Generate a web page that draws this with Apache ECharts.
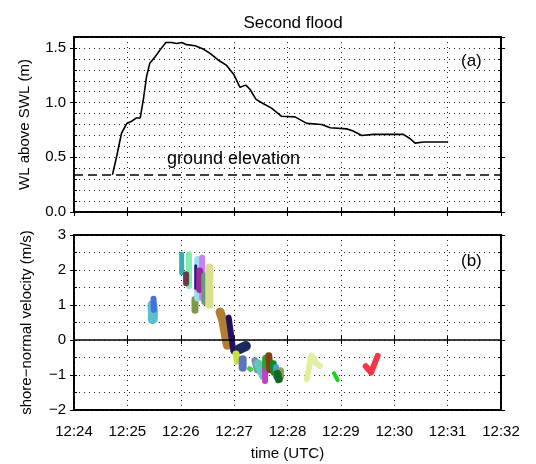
<!DOCTYPE html>
<html>
<head>
<meta charset="utf-8">
<script src="https://cdn.jsdelivr.net/npm/echarts@6/dist/echarts.min.js"></script>
<style>
  html, body { margin: 0; padding: 0; background: #fff; }
  #chart { width: 536px; height: 464px; }
</style>
</head>
<body>
<div id="chart"></div>
<script>
// x axis is minutes after 12:24 UTC
var xTickLabels = ["12:24", "12:25", "12:26", "12:27", "12:28", "12:29", "12:30", "12:31", "12:32"];

// (a) water level above SWL (m)
var wlTime = [0.72, 0.80, 0.89, 0.99, 1.08, 1.17, 1.24, 1.30, 1.36, 1.42, 1.52, 1.61, 1.72, 1.83, 1.92, 2.02, 2.11, 2.27,
  2.42, 2.55, 2.70, 2.86, 2.99, 3.11, 3.22, 3.30, 3.41, 3.55, 3.70, 3.89, 4.14, 4.36, 4.64, 4.80, 5.11, 5.23, 5.39, 5.61,
  6.17, 6.30, 6.39, 6.55, 7.01];
var wlValue = [0.34, 0.51, 0.72, 0.81, 0.83, 0.86, 0.86, 1.03, 1.24, 1.36, 1.42, 1.48, 1.55, 1.55, 1.54, 1.55, 1.53, 1.52,
  1.49, 1.45, 1.39, 1.34, 1.26, 1.14, 1.16, 1.12, 1.03, 0.99, 0.95, 0.875, 0.87, 0.81, 0.80, 0.77, 0.76, 0.74, 0.70, 0.71,
  0.71, 0.67, 0.63, 0.64, 0.64];
var groundElevation = 0.34;

// (b) shore-normal velocity tracks (m/s)
var trackTimes = [
  [1.47, 1.48, 1.475], [1.49, 1.495], [2.017, 2.017], [2.155, 2.155], [2.10, 2.10], [2.267, 2.267],
  [2.317, 2.317], [2.28, 2.28], [2.40, 2.40], [2.355, 2.355], [2.45, 2.45], [2.535, 2.535],
  [2.736, 2.786, 2.873], [2.898, 2.986], [3.10, 3.22], [3.036, 3.06], [3.16, 3.16], [3.29, 3.31],
  [3.39, 3.435], [3.45, 3.55], [3.58, 3.58], [3.59, 3.59], [3.65, 3.67], [3.735, 3.75], [3.785, 3.785],
  [3.87, 3.87], [3.81, 3.835], [4.36, 4.45, 4.535, 4.61], [4.87, 4.94], [5.465, 5.565, 5.69]
];
var trackVelocities = [
  [1.0, 0.8, 0.6], [1.18, 0.86], [2.45, 1.92], [2.45, 1.54], [1.88, 1.62], [1.16, 0.85],
  [2.3, 1.2], [2.12, 1.48], [2.35, 1.2], [1.97, 1.44], [1.83, 1.1], [2.07, 1.01],
  [0.80, 0.57, -0.15], [0.64, -0.32], [-0.26, -0.17], [-0.4, -0.6], [-0.55, -0.79], [-0.82, -0.84],
  [-0.59, -0.85], [-0.68, -1.02], [-0.83, -1.17], [-0.52, -0.75], [-0.45, -0.85], [-0.68, -0.93], [-0.77, -1.04],
  [-0.88, -1.04], [-0.97, -1.12], [-1.12, -0.44, -0.67, -0.74], [-0.95, -1.15], [-0.75, -0.93, -0.45]
];
var trackColors = ["#5bbfcf", "#4a6ee0", "#34b0b4", "#80eeb0", "#6b3a48", "#7a9a48",
  "#a0dcf0", "#2a1a8a", "#c880f8", "#9a2a98", "#6a9a80", "#d8e090",
  "#b08030", "#251060", "#1a2a5c", "#c8e040", "#5a78b8", "#44d044",
  "#7f8fb0", "#60c8b8", "#c040c8", "#30a030", "#804010", "#108a20", "#3aa0e0",
  "#90a060", "#106a22", "#e0f0a0", "#20d020", "#f03848"];
var trackWidths = [10, 6, 5, 6, 6, 7, 7, 3, 6, 7, 7, 8, 9, 6, 10, 7, 8, 5, 7, 9, 6, 7, 7, 7, 6, 7, 8, 6, 4, 6];

var font = "'Liberation Sans', Arial, Helvetica, sans-serif";
var dotted = { color: "#222", width: 1, type: [1, 4] };

function xAxes(grid, labels) {
  return [
    {
      type: "value", gridIndex: grid, position: "bottom", min: 0, max: 8, interval: 1,
      axisLine: { show: false },
      axisTick: { show: true, length: 4, lineStyle: { color: "#000" } },
      axisLabel: {
        show: labels, color: "#000", fontSize: 15, fontFamily: font, margin: 14,
        formatter: function (v) { return xTickLabels[Math.round(v)]; }
      },
      splitLine: { show: true, lineStyle: dotted },
      name: labels ? "time (UTC)" : "", nameLocation: "middle", nameGap: 36,
      nameTextStyle: { color: "#000", fontSize: 15, fontFamily: font }
    },
    {
      type: "value", gridIndex: grid, position: "top", min: 0, max: 8, interval: 1,
      axisLine: { show: false },
      axisTick: { show: true, length: 4, lineStyle: { color: "#000" } },
      axisLabel: { show: false },
      splitLine: { show: false }
    }
  ];
}

function yAxes(grid, min, max, major, minor, name, gap, fmt) {
  var axes = [];
  ["left", "right"].forEach(function (pos) {
    axes.push({
      type: "value", gridIndex: grid, position: pos, min: min, max: max, interval: major,
      axisLine: { show: false },
      axisTick: { show: true, length: 4, lineStyle: { color: "#000" } },
      axisLabel: {
        show: pos === "left", color: "#000", fontSize: 15, fontFamily: font, margin: 8,
        showMaxLabel: max % major === 0, formatter: fmt
      },
      splitLine: { show: false },
      name: pos === "left" ? name : "", nameLocation: "middle", nameGap: gap, nameRotate: 90,
      nameTextStyle: { color: "#000", fontSize: 15, fontFamily: font }
    });
    axes.push({
      type: "value", gridIndex: grid, position: pos, min: min, max: max, interval: minor,
      axisLine: { show: false },
      axisTick: { show: true, inside: true, length: 3, lineStyle: { color: "#000" } },
      axisLabel: { show: false },
      splitLine: { show: pos === "left", lineStyle: dotted }
    });
  });
  return axes;
}

var xAxis = xAxes(0, false).concat(xAxes(1, true));
var yAxis = yAxes(0, 0, 1.6, 0.5, 0.1, "WL above SWL (m)", 42, function (v) { return v.toFixed(1); })
  .concat(yAxes(1, -2, 3, 1, 0.5, "shore\u2212normal velocity (m/s)", 40,
    function (v) { return String(v).replace("-", "\u2212"); }));

var series = [
  {
    type: "line", xAxisIndex: 0, yAxisIndex: 0, showSymbol: false, silent: true,
    data: wlTime.map(function (t, i) { return [t, wlValue[i]]; }),
    lineStyle: { color: "#000", width: 1.6 },
    markLine: {
      silent: true, symbol: "none", label: { show: false },
      lineStyle: { color: "#000", width: 1.5, type: [9, 5] },
      data: [{ yAxis: groundElevation }]
    }
  },
  {
    type: "line", xAxisIndex: 2, yAxisIndex: 4, showSymbol: false, silent: true, data: [],
    markLine: {
      silent: true, symbol: "none", label: { show: false },
      lineStyle: { color: "#000", width: 1.5, type: "solid" },
      data: [{ yAxis: 0 }]
    }
  }
];
trackTimes.forEach(function (ts, k) {
  series.push({
    type: "line", xAxisIndex: 2, yAxisIndex: 4, showSymbol: false, silent: true,
    data: ts.map(function (t, i) { return [t, trackVelocities[k][i]]; }),
    lineStyle: { color: trackColors[k], width: trackWidths[k], cap: "round", join: "round" }
  });
});

var option = {
  animation: false,
  backgroundColor: "#fff",
  textStyle: { fontFamily: font },
  title: {
    text: "Second flood", left: 288, top: 10, textAlign: "center",
    textStyle: { color: "#000", fontSize: 17, fontWeight: "normal", fontFamily: font }
  },
  grid: [
    { left: 74, right: 35, top: 37, height: 175, show: true, borderColor: "#000", borderWidth: 2, backgroundColor: "transparent" },
    { left: 74, right: 35, top: 235, height: 175, show: true, borderColor: "#000", borderWidth: 2, backgroundColor: "transparent" }
  ],
  xAxis: xAxis,
  yAxis: yAxis,
  series: series,
  graphic: [
    { type: "text", left: 461, top: 53, style: { text: "(a)", fill: "#000", font: "17px " + font } },
    { type: "text", left: 461, top: 253, style: { text: "(b)", fill: "#000", font: "17px " + font } },
    { type: "text", left: 167, top: 150, style: { text: "ground elevation", fill: "#000", font: "18px " + font } }
  ]
};

var myChart = echarts.init(document.getElementById("chart"));
myChart.setOption(option);
</script>
</body>
</html>
